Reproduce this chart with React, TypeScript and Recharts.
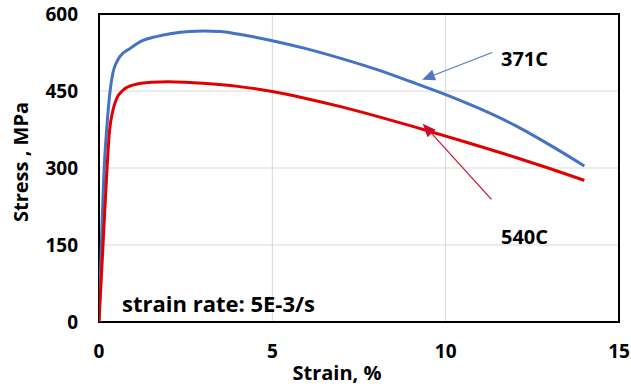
import { LineChart, Line, XAxis, YAxis, CartesianGrid, ReferenceArea, ReferenceLine } from 'recharts';

// 371C curve
const strain371 = [0, 0.15, 0.25, 0.32, 0.4, 0.5, 0.6, 0.9, 1.25, 1.65, 2.1, 2.6, 3, 3.5, 4, 5, 6, 7, 8, 9, 10, 11, 12, 13, 14];
const stress371 = [0, 300, 400, 450, 485, 505, 517, 533, 548, 556, 562, 566, 567, 566, 561, 548, 532, 513, 492, 468, 443, 415, 383, 345, 304];

// 540C curve
const strain540 = [0, 0.2, 0.3, 0.4, 0.5, 0.7, 1, 1.5, 2, 2.5, 3, 4, 5, 6, 7, 8, 9, 10, 11, 12, 13, 14];
const stress540 = [0, 260, 370, 412, 434, 452, 462, 467, 468, 467, 465, 459, 449, 435, 419, 401, 382, 362, 342, 321, 299, 276];

const xTicks = [0, 5, 10, 15];
const yTicks = [0, 150, 300, 450, 600];

const data371 = strain371.map((x, i) => ({ x, y: stress371[i] }));
const data540 = strain540.map((x, i) => ({ x, y: stress540[i] }));

const FONT = '"Open Sans", Lato, sans-serif';

const arrow = (color: string) => (props: any) => {
    const { x1, y1, x2, y2 } = props;
    const a = Math.atan2(y2 - y1, x2 - x1);
    const L = 13, W = 5.5;
    const bx = x2 - L * Math.cos(a);
    const by = y2 - L * Math.sin(a);
    const p1 = `${bx + W * Math.sin(a)},${by - W * Math.cos(a)}`;
    const p2 = `${bx - W * Math.sin(a)},${by + W * Math.cos(a)}`;
    return (
        <g>
            <line x1={x1} y1={y1} x2={bx} y2={by} stroke={color} strokeWidth={1.2} />
            <polygon points={`${x2},${y2} ${p1} ${p2}`} fill={color} />
        </g>
    );
};

const tickStyle = { fill: '#000', fontSize: 19, fontWeight: 700, fontFamily: FONT };
const noteStyle = { position: 'absolute' as const, fontFamily: FONT, fontWeight: 700, color: '#000', lineHeight: 1, whiteSpace: 'nowrap' as const };

export default function App() {
    return (
        <div style={{ position: 'absolute', left: 0, top: 0, width: 631, height: 387, background: '#fff' }}>
            <LineChart width={631} height={387} margin={{ top: 14, right: 12, bottom: 0, left: 0 }}>
                <CartesianGrid stroke="#d9d9d9" strokeWidth={1} />
                <XAxis
                    type="number"
                    dataKey="x"
                    domain={[0, 15]}
                    ticks={xTicks}
                    height={65}
                    axisLine={false}
                    tickLine={false}
                    tickSize={0}
                    tickMargin={23}
                    tick={tickStyle}
                    allowDataOverflow
                    label={{
                        content: () => (
                            <text x={337} y={380} textAnchor="middle" fontSize={20} fontWeight={700} fontFamily={FONT} fill="#000">
                                Strain, %
                            </text>
                        ),
                    }}
                />
                <YAxis
                    type="number"
                    domain={[0, 600]}
                    ticks={yTicks}
                    width={99}
                    axisLine={false}
                    tickLine={false}
                    tickSize={0}
                    tickMargin={21}
                    tick={tickStyle}
                    label={{
                        content: () => (
                            <text transform="translate(28,162) rotate(-90)" textAnchor="middle" fontSize={20} fontWeight={700} fontFamily={FONT} fill="#000">
                                Stress , MPa
                            </text>
                        ),
                    }}
                />
                <ReferenceArea x1={0} x2={15} y1={0} y2={600} fill="none" stroke="#000" strokeWidth={2} fillOpacity={0} />
                <Line data={data371} dataKey="y" type="monotone" stroke="#4472c4" strokeWidth={3} dot={false} isAnimationActive={false} />
                <Line data={data540} dataKey="y" type="monotone" stroke="#e00000" strokeWidth={3} dot={false} isAnimationActive={false} />
                <ReferenceLine segment={[{ x: 11.34, y: 525 }, { x: 9.32, y: 472 }]} shape={arrow('#5577c0')} />
                <ReferenceLine segment={[{ x: 11.32, y: 239 }, { x: 9.34, y: 386 }]} shape={arrow('#c8102e')} />
            </LineChart>
            <div style={{ ...noteStyle, left: 501, top: 49, fontSize: 20 }}>371C</div>
            <div style={{ ...noteStyle, left: 501, top: 227, fontSize: 20 }}>540C</div>
            <div style={{ ...noteStyle, left: 122, top: 292, fontSize: 22 }}>strain rate: 5E-3/s</div>
        </div>
    );
}
